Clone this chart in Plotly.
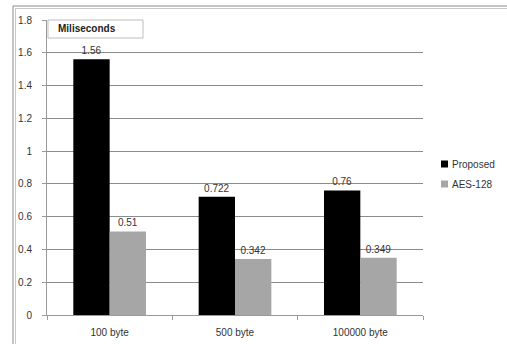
import plotly.graph_objects as go

categories = ["100 byte", "500 byte", "100000 byte"]
proposed = [1.56, 0.722, 0.76]
aes128 = [0.51, 0.342, 0.349]
proposed_labels = ["1.56", "0.722", "0.76"]
aes_labels = ["0.51", "0.342", "0.349"]
y_ticks = [0, 0.2, 0.4, 0.6, 0.8, 1, 1.2, 1.4, 1.6, 1.8]
y_tick_text = ["0", "0.2", "0.4", "0.6", "0.8", "1", "1.2", "1.4", "1.6", "1.8"]
series_names = ["Proposed", "AES-128"]

W, H = 507, 344
L, R, T, B = 47, 84, 20, 29

FAMILY = "Liberation Sans, Arial, sans-serif"
TXT = "#333333"
font = dict(family=FAMILY, size=10, color=TXT)

PROPOSED_COLOR = "#000000"
AES_COLOR = "#a6a6a6"
series_colors = [PROPOSED_COLOR, AES_COLOR]

fig = go.Figure()
fig.add_trace(go.Bar(
    x=categories, y=proposed, name=series_names[0], showlegend=False,
    marker=dict(color=PROPOSED_COLOR, line=dict(width=0)),
    text=proposed_labels, textposition="outside", cliponaxis=False,
    textfont=dict(size=10, color=TXT),
))
fig.add_trace(go.Bar(
    x=categories, y=aes128, name=series_names[1], showlegend=False,
    marker=dict(color=AES_COLOR, line=dict(width=0)),
    text=aes_labels, textposition="outside", cliponaxis=False,
    textfont=dict(size=10, color=TXT),
))

pw = W - L - R
ph = H - T - B

def px_x(x):
    return (x - L) / pw

def px_y(y):
    return (H - B - y) / ph

shapes = [
    # outer chart frame (double line, top and left)
    dict(type="line", xref="paper", yref="paper", x0=px_x(13), x1=px_x(507), y0=px_y(6), y1=px_y(6),
         line=dict(color="#8a8a8a", width=1)),
    dict(type="line", xref="paper", yref="paper", x0=px_x(15), x1=px_x(507), y0=px_y(8.5), y1=px_y(8.5),
         line=dict(color="#c8c8c8", width=1)),
    dict(type="line", xref="paper", yref="paper", x0=px_x(13), x1=px_x(13), y0=px_y(6), y1=px_y(344),
         line=dict(color="#8a8a8a", width=1)),
    dict(type="line", xref="paper", yref="paper", x0=px_x(15.5), x1=px_x(15.5), y0=px_y(8.5), y1=px_y(344),
         line=dict(color="#c8c8c8", width=1)),
    # unit caption box
    dict(type="rect", xref="paper", yref="paper", x0=px_x(48), x1=px_x(143), y0=px_y(20), y1=px_y(38),
         line=dict(color="#bdbdbd", width=1), fillcolor="white", layer="above"),
]

annotations = [
    dict(text="<b>Miliseconds</b>", xref="paper", yref="paper",
         x=px_x(56), y=px_y(29), xanchor="left", yanchor="middle",
         showarrow=False, align="left",
         font=dict(family=FAMILY, size=10, color="#222222")),
]

# compact legend: small square key beside each series name
for i, (name, color) in enumerate(zip(series_names, series_colors)):
    yc = 164 + 20 * i
    shapes.append(dict(type="rect", xref="paper", yref="paper",
                       x0=px_x(441), x1=px_x(448), y0=px_y(yc - 3.5), y1=px_y(yc + 3.5),
                       line=dict(width=0), fillcolor=color))
    annotations.append(dict(text=name, xref="paper", yref="paper",
                            x=px_x(450), y=px_y(yc), xanchor="left", yanchor="middle",
                            showarrow=False, align="left",
                            font=dict(family=FAMILY, size=10, color=TXT)))

fig.update_layout(
    width=W, height=H,
    margin=dict(l=L, r=R, t=T, b=B, pad=0, autoexpand=False),
    paper_bgcolor="white", plot_bgcolor="white",
    font=font,
    barmode="group", bargap=0.42, bargroupgap=0,
    showlegend=False,
    shapes=shapes,
    annotations=annotations,
)
fig.update_xaxes(
    showline=True, linecolor="#9a9a9a", linewidth=1,
    ticks="outside", ticklen=4, tickcolor="#9a9a9a", tickson="boundaries",
    ticklabelstandoff=8, automargin=False,
    showgrid=False, tickfont=dict(size=10, color=TXT),
)
fig.update_yaxes(
    range=[0, 1.8], tickvals=y_ticks, ticktext=y_tick_text,
    showline=True, linecolor="#9a9a9a", linewidth=1,
    ticks="outside", ticklen=4, tickcolor="#9a9a9a", ticklabelstandoff=8,
    automargin=False,
    showgrid=True, gridcolor="#8c8c8c", gridwidth=1, zeroline=False,
    tickfont=dict(size=10, color=TXT),
)

fig.write_html("out.html")
